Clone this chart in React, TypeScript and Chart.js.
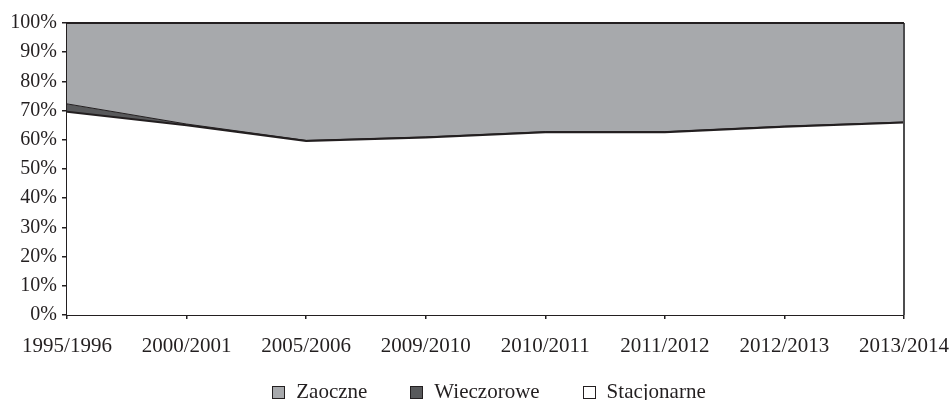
import { useEffect, useRef } from "react";
import { Chart, registerables } from "chart.js";

Chart.register(...registerables);

const categories = [
  "1995/1996",
  "2000/2001",
  "2005/2006",
  "2009/2010",
  "2010/2011",
  "2011/2012",
  "2012/2013",
  "2013/2014",
];
const stacjonarne = [69.6, 65.0, 59.6, 60.8, 62.6, 62.6, 64.5, 65.9];
const wieczorowe = [2.7, 0.4, 0.2, 0.2, 0.2, 0.2, 0.2, 0.2];
const zaoczne = [27.7, 34.6, 40.2, 39.0, 37.2, 37.2, 35.3, 33.9];

const TEXT = "#231f20";
const FONT_FAMILY = '"Liberation Serif", "DejaVu Serif", serif';

const legendPlugin = {
  id: "customLegend",
  afterDraw(chart: any) {
    const ctx = chart.ctx as CanvasRenderingContext2D;
    const items = chart.data.datasets
      .map((d: any) => ({ label: d.label, fill: d.backgroundColor }))
      .reverse();
    ctx.save();
    ctx.font = `21px ${FONT_FAMILY}`;
    const box = 12;
    const gapText = 12;
    const gapItem = 43;
    const widths = items.map(
      (it: any) => box + gapText + ctx.measureText(it.label).width
    );
    const total =
      widths.reduce((a: number, b: number) => a + b, 0) +
      gapItem * (items.length - 1);
    let x = chart.width / 2 + 13 - total / 2;
    const y = 392;
    items.forEach((it: any, i: number) => {
      const bx = Math.round(x) + 0.5;
      const by = Math.round(y - box / 2) + 0.5;
      ctx.fillStyle = it.fill;
      ctx.fillRect(bx, by, box, box);
      ctx.strokeStyle = TEXT;
      ctx.lineWidth = 1;
      ctx.strokeRect(bx, by, box, box);
      ctx.fillStyle = TEXT;
      ctx.textBaseline = "middle";
      ctx.textAlign = "left";
      ctx.fillText(it.label, x + box + gapText, y);
      x += widths[i] + gapItem;
    });
    ctx.restore();
  },
};

const framePlugin = {
  id: "rightFrame",
  afterDatasetsDraw(chart: any) {
    const { ctx, chartArea } = chart;
    ctx.save();
    ctx.strokeStyle = "#4d4d4f";
    ctx.lineWidth = 2;
    ctx.beginPath();
    ctx.moveTo(chartArea.right, chartArea.top);
    ctx.lineTo(chartArea.right, chartArea.bottom);
    ctx.stroke();
    ctx.strokeStyle = TEXT;
    ctx.beginPath();
    ctx.moveTo(chartArea.left, chartArea.top);
    ctx.lineTo(chartArea.right, chartArea.top);
    ctx.stroke();
    ctx.restore();
  },
};

export default function App() {
  const ref = useRef<HTMLCanvasElement | null>(null);

  useEffect(() => {
    if (!ref.current) return;
    const yFont = { family: FONT_FAMILY, size: 20 };
    const xFont = { family: FONT_FAMILY, size: 21 };
    const chart = new Chart(ref.current, {
      type: "line",
      data: {
        labels: categories,
        datasets: [
          {
            label: "Stacjonarne",
            data: stacjonarne,
            backgroundColor: "#ffffff",
            borderColor: TEXT,
            borderWidth: 2,
            fill: "origin",
            pointRadius: 0,
            tension: 0,
          },
          {
            label: "Wieczorowe",
            data: wieczorowe,
            backgroundColor: "#58595b",
            borderColor: TEXT,
            borderWidth: 1,
            fill: "-1",
            pointRadius: 0,
            tension: 0,
          },
          {
            label: "Zaoczne",
            data: zaoczne,
            backgroundColor: "#a7a9ac",
            borderColor: TEXT,
            borderWidth: 2,
            fill: "-1",
            pointRadius: 0,
            tension: 0,
          },
        ],
      },
      options: {
        responsive: false,
        animation: false,
        layout: { padding: { top: 23, right: 48, left: 0, bottom: 0 } },
        plugins: {
          legend: { display: false },
          tooltip: { enabled: false },
        },
        scales: {
          x: {
            offset: false,
            grid: {
              drawOnChartArea: false,
              drawTicks: true,
              tickLength: 4,
              color: TEXT,
              lineWidth: 1.5,
            },
            border: { color: TEXT, width: 2 },
            ticks: {
              font: xFont,
              color: TEXT,
              padding: 15,
              maxRotation: 0,
              autoSkip: false,
            },
            afterFit: (s: any) => {
              s.height = 85;
              s.paddingLeft = 0;
              s.paddingRight = 0;
            },
          },
          y: {
            stacked: true,
            min: 0,
            max: 100,
            grid: {
              drawOnChartArea: false,
              drawTicks: true,
              tickLength: 5,
              color: TEXT,
              lineWidth: 1.5,
            },
            border: { color: TEXT, width: 2 },
            ticks: {
              stepSize: 10,
              font: yFont,
              color: TEXT,
              padding: 5,
              callback: (v: any) => `${v}%`,
            },
            afterFit: (s: any) => {
              s.width = 67;
            },
          },
        },
      },
      plugins: [framePlugin, legendPlugin],
    });
    return () => chart.destroy();
  }, []);

  return (
    <div
      style={{
        position: "fixed",
        left: 0,
        top: 0,
        width: 952,
        height: 400,
        background: "#ffffff",
      }}
    >
      <canvas ref={ref} width={952} height={400} />
    </div>
  );
}
